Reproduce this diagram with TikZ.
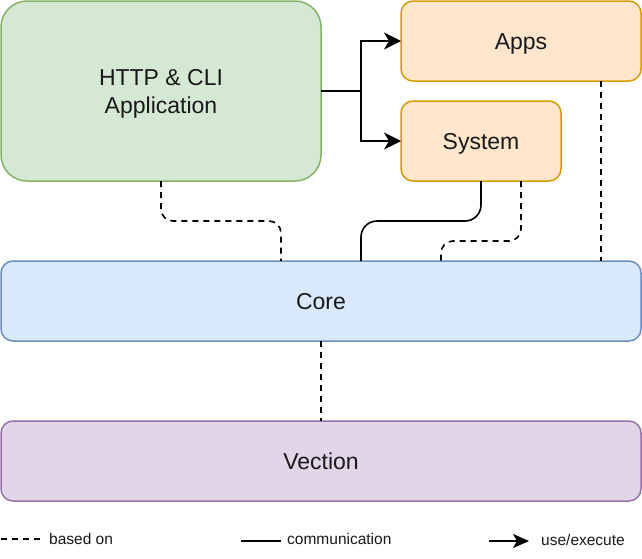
\documentclass[tikz,border=0pt]{standalone}
\usepackage{fontspec}
\setmainfont{Liberation Sans}
\usetikzlibrary{arrows.meta}
\definecolor{greenF}{HTML}{D5E8D4}
\definecolor{greenD}{HTML}{82B366}
\definecolor{orangeF}{HTML}{FFE6CC}
\definecolor{orangeD}{HTML}{D79B00}
\definecolor{blueF}{HTML}{DAE8FC}
\definecolor{blueD}{HTML}{6C8EBF}
\definecolor{purpleF}{HTML}{E1D5E7}
\definecolor{purpleD}{HTML}{9673A6}
\tikzset{
  box/.style={draw, line width=1.5pt, align=center, inner sep=0pt, outer sep=0pt,
    font=\fontsize{23}{28}\selectfont, text=black!90, text height=16.4pt, text depth=0pt},
  based/.style={draw=black, line width=1.6pt, dash pattern=on 6pt off 5pt},
  comm/.style={draw=black, line width=1.6pt},
  usex/.style={draw=black, line width=1.6pt, -{Stealth[length=17pt, width=17pt, inset=5pt]}},
  legtext/.style={font=\fontsize{15.5}{18}\selectfont, inner sep=0pt, anchor=west, text=black!90},
}
\begin{document}
\begin{tikzpicture}[x=1pt, y=-1pt]
\useasboundingbox (0,0) rectangle (642,558);
\node[box, fill=greenF, draw=greenD, rounded corners=26pt, minimum width=320pt, minimum height=180pt, text height=44.4pt] (http) at (161,91) {HTTP \& CLI\\Application};
\node[box, fill=orangeF, draw=orangeD, rounded corners=12pt, minimum width=240pt, minimum height=80pt] (apps) at (521,41) {Apps};
\node[box, fill=orangeF, draw=orangeD, rounded corners=12pt, minimum width=160pt, minimum height=80pt] (system) at (481,141) {System};
\node[box, fill=blueF, draw=blueD, rounded corners=12pt, minimum width=640pt, minimum height=80pt] (core) at (321,301) {Core};
\node[box, fill=purpleF, draw=purpleD, rounded corners=12pt, minimum width=640pt, minimum height=80pt] (vection) at (321,461) {Vection};

% use/execute arrows
\draw[usex] (http.east) -- ++(40,0) |- (apps.west);
\draw[usex] (http.east) -- ++(40,0) |- (system.west);

% based on / communication
\draw[based, rounded corners=12pt] (http.south) -- ++(0,40) -| ([xshift=-40pt]core.north);
\draw[comm, rounded corners=16pt] (system.south) -- ++(0,40) -| ([xshift=40pt]core.north);
\draw[based, rounded corners=12pt] ([xshift=40pt]system.south) -- ++(0,60) -| ([xshift=120pt]core.north);
\draw[based] ([xshift=-40pt]apps.south east) -- ([xshift=-40pt]core.north east);
\draw[based] (core.south) -- (vection.north);

% legend
\coordinate (la) at (1,539);
\coordinate (lb) at (41,539);
\coordinate (lc) at (241,541);
\coordinate (ld) at (281,541);
\coordinate (le) at (489,541);
\coordinate (lf) at (529,541);
\draw[based] (la) -- (lb);
\node[legtext] (t1) at (49,539) {based on};
\draw[comm] (lc) -- (ld);
\node[legtext] (t2) at (287,539) {communication};
\draw[comm, -{Stealth[length=16pt, width=14pt, inset=4pt]}] (le) -- (lf);
\node[legtext] (t3) at (541,540) {use/execute};
\end{tikzpicture}
\end{document}
